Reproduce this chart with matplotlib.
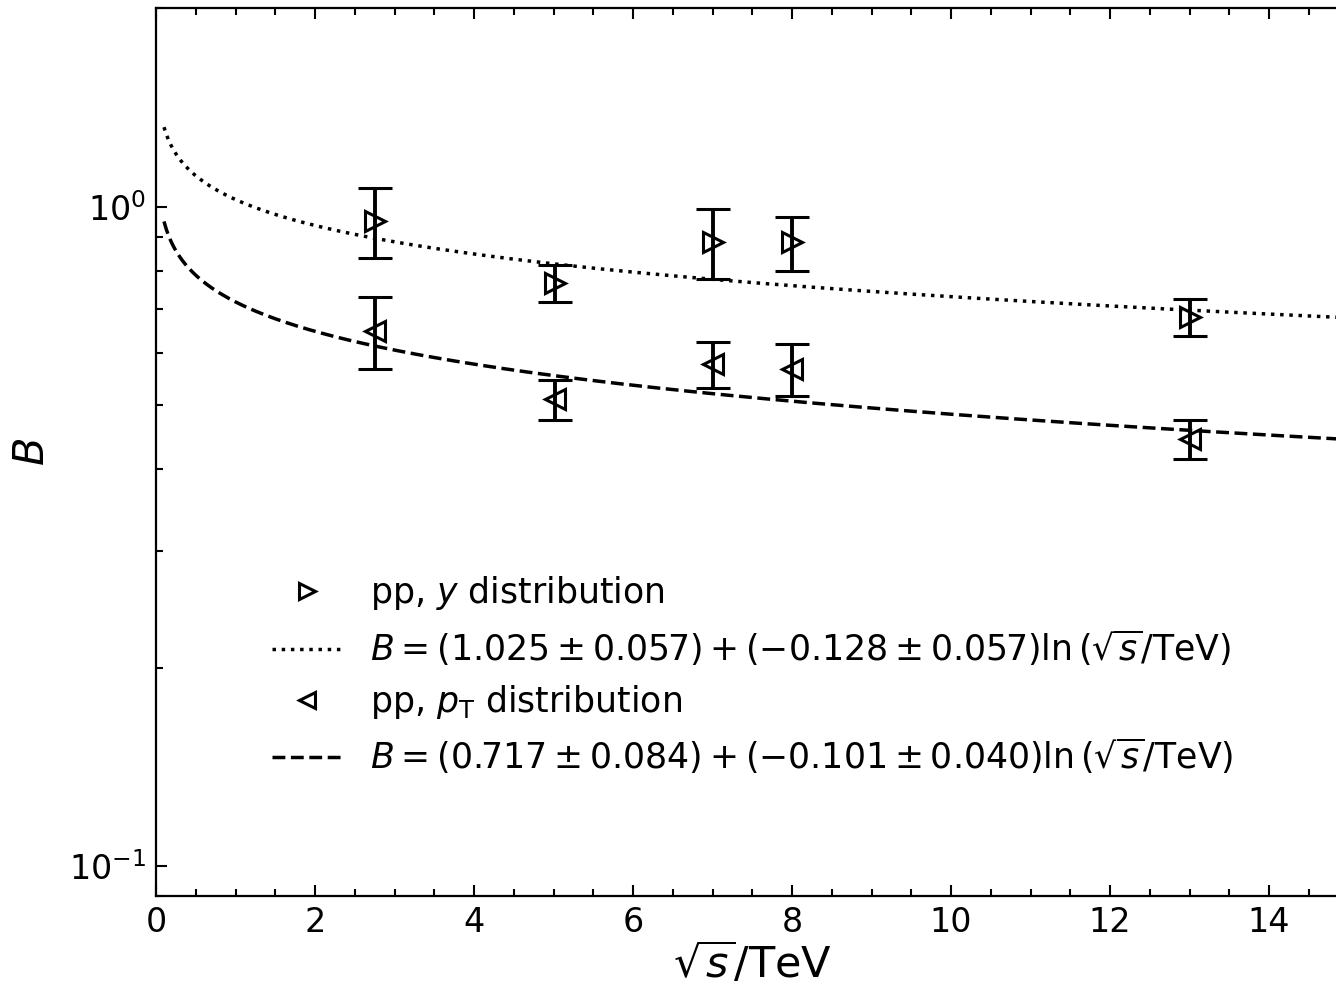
import numpy as np
import matplotlib.pyplot as plt
from matplotlib.ticker import MultipleLocator

# collision energies (TeV)
energies = [2.76, 5.02, 7.0, 8.0, 13.0]

# B from rapidity distributions
B_y = [0.951, 0.767, 0.883, 0.883, 0.680]
B_y_err = [0.115, 0.050, 0.1075, 0.083, 0.0435]

# B from transverse momentum distributions
B_pt = [0.648, 0.510, 0.577, 0.567, 0.444]
B_pt_err = [0.081, 0.036, 0.047, 0.0515, 0.030]

# fit parameters B = a + b ln(sqrt(s)/TeV)
a_y, b_y = 1.025, -0.128
a_pt, b_pt = 0.717, -0.101

xs = np.linspace(0.1, 15, 500)

plt.rcParams['mathtext.fontset'] = 'dejavusans'

fig = plt.figure(figsize=(13.36, 9.88), dpi=100)
ax = fig.add_axes([0.1168, 0.0928, 0.8926, 0.899])

ax.errorbar(energies, B_y, yerr=B_y_err, fmt='none', ecolor='k',
            elinewidth=2.8, capsize=12, capthick=2.2)
ax.errorbar(energies, B_pt, yerr=B_pt_err, fmt='none', ecolor='k',
            elinewidth=2.8, capsize=12, capthick=2.2)

ax.plot(energies, B_y, linestyle='none', marker='>', ms=15, mfc='none',
        mec='k', mew=2.2, label=r'pp, $y$ distribution')
ax.plot(xs, a_y + b_y*np.log(xs), ':k', lw=2.5,
        label=r'$B=(1.025\pm0.057)+(-0.128\pm0.057)\ln{(\sqrt{s}/\mathrm{TeV})}$')
ax.plot(energies, B_pt, linestyle='none', marker='<', ms=15, mfc='none',
        mec='k', mew=2.2, label=r'pp, $p_\mathrm{T}$ distribution')
ax.plot(xs, a_pt + b_pt*np.log(xs), '--k', lw=2.5,
        label=r'$B=(0.717\pm0.084)+(-0.101\pm0.040)\ln{(\sqrt{s}/\mathrm{TeV})}$')

ax.set_yscale('log')
ax.set_xlim([0, 15])
ax.set_ylim([0.09, 2.0])
ax.xaxis.set_major_locator(MultipleLocator(2))
ax.xaxis.set_minor_locator(MultipleLocator(0.5))
ax.tick_params(which='both', direction='in', top=True, right=True,
               labelsize=24, width=1.5)
ax.tick_params(which='major', length=8, pad=7)
ax.tick_params(which='minor', length=5)
for sp in ax.spines.values():
    sp.set_linewidth(1.6)

ax.set_xlabel(r'$\sqrt{s}/\mathrm{TeV}$', fontsize=31, labelpad=2)
ax.set_ylabel(r'$B$', fontsize=30, labelpad=12)

ax.legend(loc='upper left', bbox_to_anchor=(0.086, 0.378), frameon=False,
          fontsize=25, handlelength=2.0, handletextpad=0.8, markerscale=0.75,
          labelspacing=0.44, borderaxespad=0)

fig.savefig('out.png', dpi=100)
